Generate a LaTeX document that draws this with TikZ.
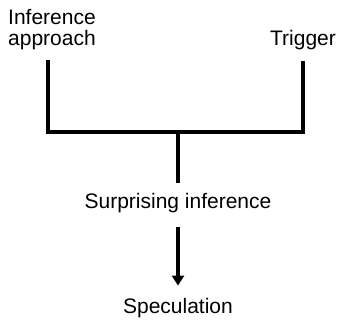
\documentclass[tikz,border=0pt]{standalone}
\usepackage{fontspec}
\setmainfont{Liberation Sans}
\usetikzlibrary{positioning}
\usetikzlibrary{arrows.meta}

\begin{document}
\begin{tikzpicture}[x=1pt,y=1pt]
\tikzstyle{word}=[inner sep=0pt, font=\fontsize{21}{21}\selectfont]
\tikzstyle{bar}=[line width=3.3pt]
\tikzstyle{connect}=[-{Triangle[length=10pt,width=12pt]}, line width=3.3pt]
\useasboundingbox (0,0) rectangle (341,323);

  \node[word, anchor=north west, align=left] (infer) at (8,313.5) {Inference\\approach};
  \node[word, anchor=base] (trigger) at (303,277) {Trigger};
  \coordinate (join) at (178,191);

  \node[word, anchor=base] (surp) at (178,114) {Surprising inference};
  \node[word, anchor=base] (spec) at (178,9) {Speculation};

  \draw[bar] ([xshift=-4pt,yshift=-10pt]infer.south) |- (join) -| ([yshift=-10pt]trigger.south);
  \draw[bar, shorten >=11pt] (join) -- (surp);
  \draw[connect, shorten <=13.5pt, shorten >=13pt] (surp) -- (spec);
\end{tikzpicture}
\end{document}
